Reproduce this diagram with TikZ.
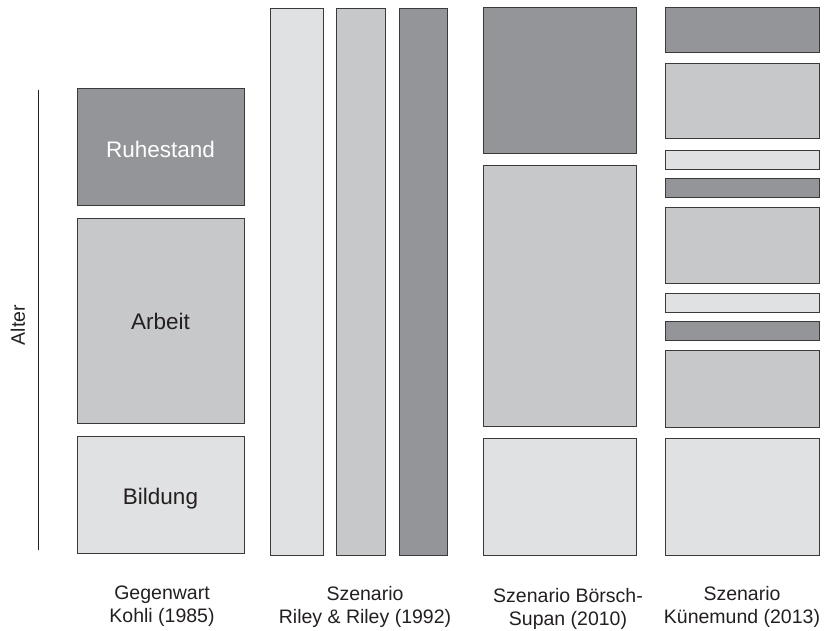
\documentclass[tikz,border=0pt]{standalone}
\usepackage{fontspec}
\setmainfont{Liberation Sans}
\definecolor{dk}{HTML}{939598}
\definecolor{md}{HTML}{C7C8CA}
\definecolor{lt}{HTML}{E0E1E2}
\definecolor{edge}{HTML}{3A3A3C}
\definecolor{ink}{HTML}{231F20}
\tikzset{
  blk/.style={draw=edge, line width=0.9pt, rectangle, inner sep=0pt, outer sep=0pt, anchor=north west},
  lbl/.style={align=center, font=\fontsize{19.5}{22.5}\selectfont, text=ink, inner sep=0pt},
  intext/.style={font=\fontsize{22.5}{26}\selectfont},
}
\newcommand{\bx}[6]{\node[blk, fill=#2, minimum width=#5-#3, minimum height=#6-#4] (#1) at (#3,#4) {};}
\begin{document}
\begin{tikzpicture}[x=1pt,y=-1pt]
\useasboundingbox (0,0) rectangle (826,630);
% Kohli
\bx{kR}{dk}{77}{88}{244}{205}
\bx{kA}{md}{77}{218}{244}{423}
\bx{kB}{lt}{77}{436}{244}{553}
\node[intext, text=white] (tR) at ([yshift=-3pt]kR.center) {Ruhestand};
\node[intext, text=ink] (tA) at ([yshift=-1pt]kA.center) {Arbeit};
\node[intext, text=ink] (tB) at ([yshift=-4pt]kB.center) {Bildung};
% Riley
\bx{r1}{lt}{270}{8}{323}{555}
\bx{r2}{md}{336}{8}{385}{555}
\bx{r3}{dk}{399}{8}{447}{555}
% Boersch-Supan
\bx{b1}{dk}{483}{7}{636}{153}
\bx{b2}{md}{483}{165}{636}{426}
\bx{b3}{lt}{483}{438}{636}{555}
% Kuenemund
\bx{u1}{dk}{665}{7}{819}{52}
\bx{u2}{md}{665}{63}{819}{138}
\bx{u3}{lt}{665}{150}{819}{169}
\bx{u4}{dk}{665}{178}{819}{197}
\bx{u5}{md}{665}{207}{819}{283}
\bx{u6}{lt}{665}{293}{819}{312}
\bx{u7}{dk}{665}{321}{819}{340}
\bx{u8}{md}{665}{350}{819}{427}
\bx{u9}{lt}{665}{438}{819}{555}
% axis
\coordinate (at) at (38,90);
\coordinate (ab) at (38,550);
\draw[line width=0.8pt, ink] (at) -- (ab);
\node[lbl, rotate=90] (alter) at (18,325) {Alter};
% labels
\node[lbl] (lk) at (162,606) {Gegenwart\\Kohli (1985)};
\node[lbl] (lr) at (365,607) {Szenario\\Riley \& Riley (1992)};
\node[lbl] (lb) at (568,609) {Szenario Börsch-\\Supan (2010)};
\node[lbl] (lu) at (742,607) {Szenario\\Künemund (2013)};
\end{tikzpicture}
\end{document}
